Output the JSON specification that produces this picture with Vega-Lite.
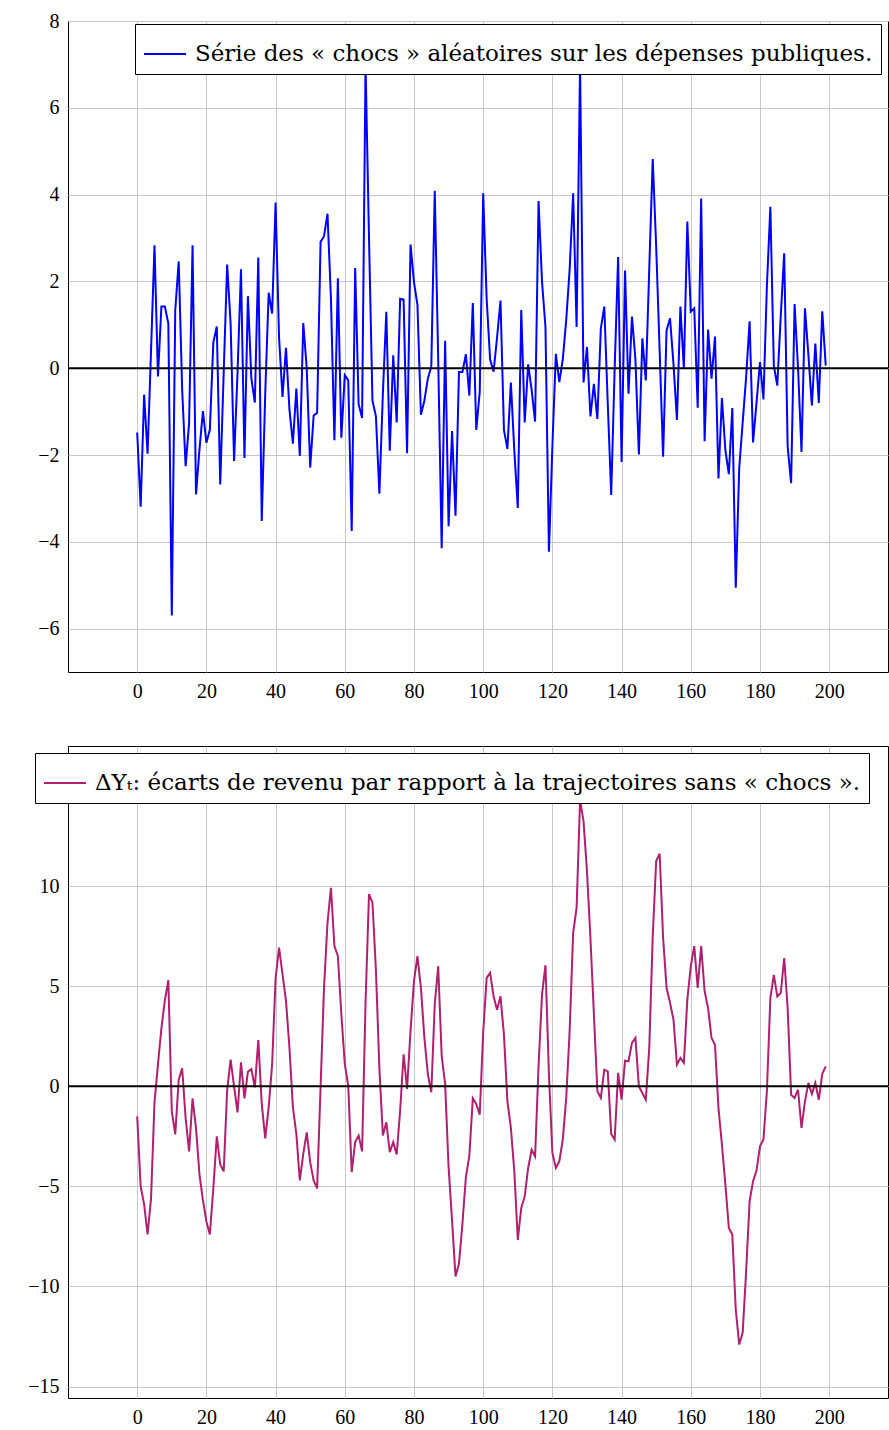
{
  "$schema": "https://vega.github.io/schema/vega-lite/v6.json",
  "padding": {"left": 27, "top": 10, "right": 0, "bottom": 0},
  "background": "white",
  "datasets": {
    "chocs": [
      {"t":0,"v":-1.48},{"t":1,"v":-3.19},{"t":2,"v":-0.61},{"t":3,"v":-1.97},{"t":4,"v":0.4},{"t":5,"v":2.83},{"t":6,"v":-0.19},{"t":7,"v":1.42},{"t":8,"v":1.42},{"t":9,"v":1.03},
      {"t":10,"v":-5.7},{"t":11,"v":1.34},{"t":12,"v":2.46},{"t":13,"v":-0.5},{"t":14,"v":-2.26},{"t":15,"v":-1.26},{"t":16,"v":2.83},{"t":17,"v":-2.91},{"t":18,"v":-1.87},{"t":19,"v":-0.99},
      {"t":20,"v":-1.72},{"t":21,"v":-1.42},{"t":22,"v":0.59},{"t":23,"v":0.96},{"t":24,"v":-2.68},{"t":25,"v":-0.1},{"t":26,"v":2.39},{"t":27,"v":1.03},{"t":28,"v":-2.14},{"t":29,"v":-0.1},
      {"t":30,"v":2.28},{"t":31,"v":-2.07},{"t":32,"v":1.66},{"t":33,"v":-0.24},{"t":34,"v":-0.79},{"t":35,"v":2.55},{"t":36,"v":-3.52},{"t":37,"v":-0.6},{"t":38,"v":1.74},{"t":39,"v":1.26},
      {"t":40,"v":3.82},{"t":41,"v":0.71},{"t":42,"v":-0.66},{"t":43,"v":0.47},{"t":44,"v":-0.95},{"t":45,"v":-1.74},{"t":46,"v":-0.47},{"t":47,"v":-2.02},{"t":48,"v":1.04},{"t":49,"v":0.0},
      {"t":50,"v":-2.29},{"t":51,"v":-1.09},{"t":52,"v":-1.03},{"t":53,"v":2.91},{"t":54,"v":3.04},{"t":55,"v":3.56},{"t":56,"v":1.6},{"t":57,"v":-1.66},{"t":58,"v":2.07},{"t":59,"v":-1.6},
      {"t":60,"v":-0.16},{"t":61,"v":-0.28},{"t":62,"v":-3.75},{"t":63,"v":2.31},{"t":64,"v":-0.83},{"t":65,"v":-1.15},{"t":66,"v":7.0},{"t":67,"v":3.0},{"t":68,"v":-0.75},{"t":69,"v":-1.11},
      {"t":70,"v":-2.89},{"t":71,"v":-0.6},{"t":72,"v":1.3},{"t":73,"v":-1.9},{"t":74,"v":0.3},{"t":75,"v":-1.25},{"t":76,"v":1.6},{"t":77,"v":1.58},{"t":78,"v":-1.96},{"t":79,"v":2.85},
      {"t":80,"v":1.98},{"t":81,"v":1.46},{"t":82,"v":-1.07},{"t":83,"v":-0.75},{"t":84,"v":-0.24},{"t":85,"v":0.04},{"t":86,"v":4.09},{"t":87,"v":0.2},{"t":88,"v":-4.15},{"t":89,"v":0.63},
      {"t":90,"v":-3.64},{"t":91,"v":-1.45},{"t":92,"v":-3.4},{"t":93,"v":-0.09},{"t":94,"v":-0.09},{"t":95,"v":0.32},{"t":96,"v":-0.63},{"t":97,"v":1.5},{"t":98,"v":-1.42},{"t":99,"v":-0.55},
      {"t":100,"v":4.03},{"t":101,"v":1.6},{"t":102,"v":0.2},{"t":103,"v":-0.08},{"t":104,"v":0.7},{"t":105,"v":1.56},{"t":106,"v":-1.42},{"t":107,"v":-1.86},{"t":108,"v":-0.33},{"t":109,"v":-1.9},
      {"t":110,"v":-3.22},{"t":111,"v":1.34},{"t":112,"v":-1.25},{"t":113,"v":0.09},{"t":114,"v":-0.5},{"t":115,"v":-1.23},{"t":116,"v":3.85},{"t":117,"v":2.0},{"t":118,"v":0.95},{"t":119,"v":-4.23},
      {"t":120,"v":-1.8},{"t":121,"v":0.33},{"t":122,"v":-0.32},{"t":123,"v":0.2},{"t":124,"v":1.11},{"t":125,"v":2.29},{"t":126,"v":4.03},{"t":127,"v":0.95},{"t":128,"v":7.0},{"t":129,"v":-0.33},
      {"t":130,"v":0.49},{"t":131,"v":-1.11},{"t":132,"v":-0.36},{"t":133,"v":-1.17},{"t":134,"v":0.91},{"t":135,"v":1.42},{"t":136,"v":-0.8},{"t":137,"v":-2.92},{"t":138,"v":0.0},{"t":139,"v":2.56},
      {"t":140,"v":-2.16},{"t":141,"v":2.25},{"t":142,"v":-0.59},{"t":143,"v":1.19},{"t":144,"v":0.2},{"t":145,"v":-1.99},{"t":146,"v":0.69},{"t":147,"v":-0.28},{"t":148,"v":2.3},{"t":149,"v":4.82},
      {"t":150,"v":2.8},{"t":151,"v":0.4},{"t":152,"v":-2.04},{"t":153,"v":0.87},{"t":154,"v":1.15},{"t":155,"v":0.1},{"t":156,"v":-1.19},{"t":157,"v":1.42},{"t":158,"v":-0.02},{"t":159,"v":3.38},
      {"t":160,"v":1.3},{"t":161,"v":1.38},{"t":162,"v":-0.91},{"t":163,"v":3.91},{"t":164,"v":-1.68},{"t":165,"v":0.89},{"t":166,"v":-0.24},{"t":167,"v":0.73},{"t":168,"v":-2.54},{"t":169,"v":-0.69},
      {"t":170,"v":-1.89},{"t":171,"v":-2.44},{"t":172,"v":-0.92},{"t":173,"v":-5.06},{"t":174,"v":-2.3},{"t":175,"v":-1.25},{"t":176,"v":-0.2},{"t":177,"v":1.08},{"t":178,"v":-1.71},{"t":179,"v":-0.8},
      {"t":180,"v":0.14},{"t":181,"v":-0.72},{"t":182,"v":1.9},{"t":183,"v":3.72},{"t":184,"v":0.06},{"t":185,"v":-0.4},{"t":186,"v":1.2},{"t":187,"v":2.65},{"t":188,"v":-1.81},{"t":189,"v":-2.65},
      {"t":190,"v":1.48},{"t":191,"v":0.0},{"t":192,"v":-1.93},{"t":193,"v":1.38},{"t":194,"v":0.3},{"t":195,"v":-0.86},{"t":196,"v":0.57},{"t":197,"v":-0.8},{"t":198,"v":1.31},{"t":199,"v":0.06}
    ],
    "revenu": [
      {"t":0,"v":-1.5},{"t":1,"v":-5.0},{"t":2,"v":-5.9},{"t":3,"v":-7.4},{"t":4,"v":-5.6},{"t":5,"v":-0.8},{"t":6,"v":1.1},{"t":7,"v":2.9},{"t":8,"v":4.3},{"t":9,"v":5.3},
      {"t":10,"v":-1.25},{"t":11,"v":-2.4},{"t":12,"v":0.33},{"t":13,"v":0.9},{"t":14,"v":-1.6},{"t":15,"v":-3.25},{"t":16,"v":-0.6},{"t":17,"v":-2.1},{"t":18,"v":-4.4},{"t":19,"v":-5.7},
      {"t":20,"v":-6.75},{"t":21,"v":-7.4},{"t":22,"v":-5.1},{"t":23,"v":-2.5},{"t":24,"v":-3.9},{"t":25,"v":-4.25},{"t":26,"v":-0.2},{"t":27,"v":1.33},{"t":28,"v":0.0},{"t":29,"v":-1.3},
      {"t":30,"v":1.2},{"t":31,"v":-0.6},{"t":32,"v":0.72},{"t":33,"v":0.86},{"t":34,"v":-0.05},{"t":35,"v":2.31},{"t":36,"v":-0.88},{"t":37,"v":-2.6},{"t":38,"v":-1.05},{"t":39,"v":1.11},
      {"t":40,"v":5.4},{"t":41,"v":6.93},{"t":42,"v":5.6},{"t":43,"v":4.27},{"t":44,"v":1.94},{"t":45,"v":-1.05},{"t":46,"v":-2.38},{"t":47,"v":-4.7},{"t":48,"v":-3.37},{"t":49,"v":-2.3},
      {"t":50,"v":-3.79},{"t":51,"v":-4.7},{"t":52,"v":-5.1},{"t":53,"v":-0.05},{"t":54,"v":4.93},{"t":55,"v":8.17},{"t":56,"v":9.92},{"t":57,"v":7.01},{"t":58,"v":6.51},{"t":59,"v":3.6},
      {"t":60,"v":1.11},{"t":61,"v":0.03},{"t":62,"v":-4.29},{"t":63,"v":-2.79},{"t":64,"v":-2.46},{"t":65,"v":-3.25},{"t":66,"v":4.2},{"t":67,"v":9.6},{"t":68,"v":9.17},{"t":69,"v":5.8},
      {"t":70,"v":0.9},{"t":71,"v":-2.46},{"t":72,"v":-1.8},{"t":73,"v":-3.29},{"t":74,"v":-2.79},{"t":75,"v":-3.4},{"t":76,"v":-1.21},{"t":77,"v":1.6},{"t":78,"v":-0.13},{"t":79,"v":2.77},
      {"t":80,"v":5.27},{"t":81,"v":6.5},{"t":82,"v":4.93},{"t":83,"v":2.44},{"t":84,"v":0.61},{"t":85,"v":-0.3},{"t":86,"v":4.1},{"t":87,"v":6.0},{"t":88,"v":1.53},{"t":89,"v":0.12},
      {"t":90,"v":-4.04},{"t":91,"v":-6.7},{"t":92,"v":-9.5},{"t":93,"v":-8.85},{"t":94,"v":-6.86},{"t":95,"v":-4.53},{"t":96,"v":-3.46},{"t":97,"v":-0.6},{"t":98,"v":-0.88},{"t":99,"v":-1.42},
      {"t":100,"v":2.7},{"t":101,"v":5.42},{"t":102,"v":5.67},{"t":103,"v":4.5},{"t":104,"v":3.83},{"t":105,"v":4.5},{"t":106,"v":2.58},{"t":107,"v":-0.75},{"t":108,"v":-2.08},{"t":109,"v":-4.25},
      {"t":110,"v":-7.67},{"t":111,"v":-6.08},{"t":112,"v":-5.5},{"t":113,"v":-4.08},{"t":114,"v":-3.17},{"t":115,"v":-3.5},{"t":116,"v":1.0},{"t":117,"v":4.58},{"t":118,"v":6.05},{"t":119,"v":0.6},
      {"t":120,"v":-3.33},{"t":121,"v":-4.08},{"t":122,"v":-3.75},{"t":123,"v":-2.67},{"t":124,"v":-0.58},{"t":125,"v":2.8},{"t":126,"v":7.67},{"t":127,"v":8.92},{"t":128,"v":14.3},{"t":129,"v":13.25},
      {"t":130,"v":10.75},{"t":131,"v":7.4},{"t":132,"v":3.6},{"t":133,"v":-0.25},{"t":134,"v":-0.58},{"t":135,"v":0.83},{"t":136,"v":0.75},{"t":137,"v":-2.38},{"t":138,"v":-2.67},{"t":139,"v":0.67},
      {"t":140,"v":-0.67},{"t":141,"v":1.28},{"t":142,"v":1.25},{"t":143,"v":2.17},{"t":144,"v":2.42},{"t":145,"v":0.0},{"t":146,"v":-0.33},{"t":147,"v":-0.67},{"t":148,"v":1.92},{"t":149,"v":7.5},
      {"t":150,"v":11.25},{"t":151,"v":11.62},{"t":152,"v":7.42},{"t":153,"v":4.92},{"t":154,"v":4.17},{"t":155,"v":3.33},{"t":156,"v":1.08},{"t":157,"v":1.42},{"t":158,"v":1.17},{"t":159,"v":4.33},
      {"t":160,"v":6.0},{"t":161,"v":7.0},{"t":162,"v":4.92},{"t":163,"v":7.0},{"t":164,"v":4.75},{"t":165,"v":3.9},{"t":166,"v":2.41},{"t":167,"v":2.08},{"t":168,"v":-1.08},{"t":169,"v":-2.91},
      {"t":170,"v":-4.91},{"t":171,"v":-7.07},{"t":172,"v":-7.4},{"t":173,"v":-11.15},{"t":174,"v":-12.9},{"t":175,"v":-12.3},{"t":176,"v":-9.23},{"t":177,"v":-5.74},{"t":178,"v":-4.74},{"t":179,"v":-4.21},
      {"t":180,"v":-3.0},{"t":181,"v":-2.66},{"t":182,"v":-0.25},{"t":183,"v":4.41},{"t":184,"v":5.57},{"t":185,"v":4.49},{"t":186,"v":4.66},{"t":187,"v":6.41},{"t":188,"v":3.91},{"t":189,"v":-0.42},
      {"t":190,"v":-0.58},{"t":191,"v":-0.17},{"t":192,"v":-2.08},{"t":193,"v":-0.75},{"t":194,"v":0.17},{"t":195,"v":-0.38},{"t":196,"v":0.17},{"t":197,"v":-0.67},{"t":198,"v":0.62},{"t":199,"v":1.0}
    ]
  },
  "vconcat": [
    {
      "width": 820,
      "height": 651,
      "layer": [
        {
          "data": {"name": "chocs"},
          "mark": {"type": "line", "strokeWidth": 2, "clip": true},
          "encoding": {
            "x": {"field": "t", "type": "quantitative",
                  "scale": {"domain": [-20, 217], "nice": false, "zero": false},
                  "axis": {"values": [0, 20, 40, 60, 80, 100, 120, 140, 160, 180, 200]}},
            "y": {"field": "v", "type": "quantitative",
                  "scale": {"domain": [-7, 8], "nice": false, "zero": false},
                  "axis": {"values": [-6, -4, -2, 0, 2, 4, 6, 8]}},
            "color": {"datum": "Série des « chocs » aléatoires sur les dépenses publiques.",
                      "type": "nominal",
                      "scale": {"range": ["#0000ff"]},
                      "legend": {"orient": "none", "legendX": 67, "legendY": 3}}
          }
        },
        {
          "data": {"values": [{}]},
          "mark": {"type": "rule", "color": "black", "strokeWidth": 2},
          "encoding": {"y": {"datum": 0}}
        }
      ]
    },
    {
      "width": 820,
      "height": 652,
      "layer": [
        {
          "data": {"name": "revenu"},
          "mark": {"type": "line", "strokeWidth": 2, "clip": true},
          "encoding": {
            "x": {"field": "t", "type": "quantitative",
                  "scale": {"domain": [-20, 217], "nice": false, "zero": false},
                  "axis": {"values": [0, 20, 40, 60, 80, 100, 120, 140, 160, 180, 200]}},
            "y": {"field": "v", "type": "quantitative",
                  "scale": {"domain": [-15.57, 17], "nice": false, "zero": false},
                  "axis": {"values": [-15, -10, -5, 0, 5, 10]}},
            "color": {"datum": "ΔYₜ: écarts de revenu par rapport à la trajectoires sans « chocs ».",
                      "type": "nominal",
                      "scale": {"range": ["#b0206e"]},
                      "legend": {"orient": "none", "legendX": -33, "legendY": 7}}
          }
        },
        {
          "data": {"values": [{}]},
          "mark": {"type": "rule", "color": "black", "strokeWidth": 2},
          "encoding": {"y": {"datum": 0}}
        }
      ]
    }
  ],
  "spacing": 74,
  "bounds": "flush",
  "resolve": {"scale": {"color": "independent"}, "legend": {"color": "independent"}},
  "config": {
    "view": {"stroke": "black", "strokeWidth": 1},
    "axis": {
      "domain": false,
      "ticks": false,
      "title": null,
      "labelFont": "Liberation Serif",
      "labelFontSize": 20,
      "labelColor": "black",
      "labelPadding": 9,
      "labelFlush": false,
      "labelOverlap": false,
      "gridColor": "#c8c8c8",
      "gridWidth": 1
    },
    "legend": {
      "title": null,
      "symbolType": "stroke",
      "symbolSize": 1764,
      "symbolStrokeWidth": 2,
      "labelFont": "DejaVu Serif",
      "labelFontSize": 23,
      "labelColor": "black",
      "labelLimit": 1000,
      "labelOffset": 8,
      "padding": 8,
      "strokeColor": "black",
      "fillColor": "white"
    }
  }
}
